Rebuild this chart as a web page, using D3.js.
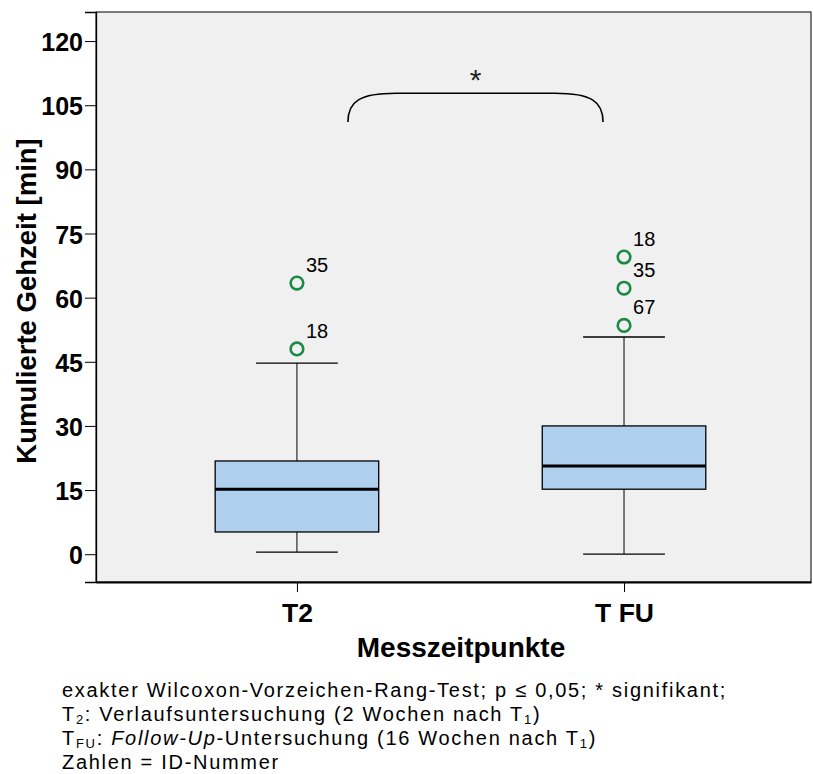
<!DOCTYPE html>
<html>
<head>
<meta charset="utf-8">
<script src="https://cdn.jsdelivr.net/npm/d3@7"></script>
<style>
  body { margin: 0; background: #fff; }
  svg { font-family: "Liberation Sans", Arial, sans-serif; }
</style>
</head>
<body>
<svg width="813" height="774"></svg>
<script>
// box plot values
var groups = ["T2", "T FU"];
var whiskerLow = [0.5, 0];
var q1 = [5.2, 15.2];
var median = [15.2, 20.6];
var q3 = [21.8, 30];
var whiskerHigh = [44.7, 50.8];

// outliers: group, value, ID label
var outlierGroup = ["T2", "T2", "T FU", "T FU", "T FU"];
var outlierValue = [63.4, 48, 69.5, 62.2, 53.5];
var outlierId = ["35", "18", "18", "35", "67"];

var yTicks = [0, 15, 30, 45, 60, 75, 90, 105, 120];

var svg = d3.select("svg"),
    margin = {top: 12, right: 2, bottom: 192, left: 96},
    width = +svg.attr("width") - margin.left - margin.right,
    height = +svg.attr("height") - margin.top - margin.bottom,
    g = svg.append("g").attr("transform", "translate(" + margin.left + "," + margin.top + ")");

var x = d3.scalePoint()
    .domain(groups)
    .range([0, width])
    .padding(0.593)
    .align(0.518);

var y = d3.scaleLinear()
    .domain([-6.5, 126.8])
    .range([height, 0]);

var step = x.step(),
    boxHalf = step * 0.25,
    capHalf = step * 0.125;

// plot background + frame
g.append("rect")
    .attr("width", width)
    .attr("height", height)
    .style("fill", "#f0f0f0")
    .style("stroke", "#000")
    .style("stroke-width", 1);

// y axis
var yAxis = g.append("g")
    .call(d3.axisLeft(y).tickValues(yTicks).tickSize(11).tickPadding(2));
yAxis.select(".domain").attr("stroke-width", 1.3);
yAxis.selectAll("text")
    .attr("dy", "0.38em")
    .style("font-size", "25px")
    .style("font-weight", "bold")
    .attr("fill", "#000");

// x axis
var xAxis = g.append("g")
    .attr("transform", "translate(0," + height + ")")
    .call(d3.axisBottom(x).tickSize(10).tickPadding(11).tickSizeOuter(0));
xAxis.select(".domain").attr("stroke-width", 2);
xAxis.selectAll("text")
    .style("font-size", "26.5px")
    .style("font-weight", "bold")
    .attr("fill", "#000");

// boxes
var box = g.selectAll(".box")
    .data(groups)
    .enter().append("g")
      .attr("class", "box");

box.append("line")
    .attr("x1", function(d) { return x(d); })
    .attr("x2", function(d) { return x(d); })
    .attr("y1", function(d, i) { return y(whiskerLow[i]); })
    .attr("y2", function(d, i) { return y(whiskerHigh[i]); })
    .style("stroke", "#000");

box.selectAll(".cap")
    .data(function(d, i) { return [[d, whiskerLow[i]], [d, whiskerHigh[i]]]; })
    .enter().append("line")
      .attr("x1", function(d) { return x(d[0]) - capHalf; })
      .attr("x2", function(d) { return x(d[0]) + capHalf; })
      .attr("y1", function(d) { return y(d[1]); })
      .attr("y2", function(d) { return y(d[1]); })
      .style("stroke", "#000")
      .style("stroke-width", 1.3);

box.append("rect")
    .attr("x", function(d) { return x(d) - boxHalf; })
    .attr("width", boxHalf * 2)
    .attr("y", function(d, i) { return y(q3[i]); })
    .attr("height", function(d, i) { return y(q1[i]) - y(q3[i]); })
    .style("fill", "#aed0ee")
    .style("stroke", "#000")
    .style("stroke-width", 1.3);

box.append("line")
    .attr("x1", function(d) { return x(d) - boxHalf; })
    .attr("x2", function(d) { return x(d) + boxHalf; })
    .attr("y1", function(d, i) { return y(median[i]); })
    .attr("y2", function(d, i) { return y(median[i]); })
    .style("stroke", "#000")
    .style("stroke-width", 3);

// outliers
var out = g.selectAll(".outlier")
    .data(outlierValue)
    .enter().append("g")
      .attr("class", "outlier")
      .attr("transform", function(d, i) { return "translate(" + x(outlierGroup[i]) + "," + y(d) + ")"; });

out.append("circle")
    .attr("r", 6.3)
    .style("fill", "none")
    .style("stroke", "#1a8a45")
    .style("stroke-width", 2.6);

out.append("text")
    .attr("x", 9)
    .attr("y", -11)
    .style("font-size", "20px")
    .text(function(d, i) { return outlierId[i]; });

// significance bracket
var bx0 = x(groups[0]) + 51,
    bx1 = x(groups[1]) - 21,
    byTop = y(107.8),
    byBot = y(101.1),
    r = 30;
g.append("path")
    .attr("d", "M" + bx0 + "," + byBot +
        "C" + bx0 + "," + (byTop + 8) + " " + (bx0 + 12) + "," + byTop + " " + (bx0 + r + 18) + "," + byTop +
        "L" + (bx1 - r - 18) + "," + byTop +
        "C" + (bx1 - 12) + "," + byTop + " " + bx1 + "," + (byTop + 8) + " " + bx1 + "," + byBot)
    .style("fill", "none")
    .style("stroke", "#000")
    .style("stroke-width", 1.6);

g.append("text")
    .attr("x", (bx0 + bx1) / 2)
    .attr("y", byTop - 3)
    .attr("text-anchor", "middle")
    .style("font-size", "30px")
    .style("fill", "#222")
    .text("*");

// axis titles
svg.append("text")
    .attr("transform", "translate(36,301) rotate(-90)")
    .attr("text-anchor", "middle")
    .style("font-size", "27.5px")
    .style("font-weight", "bold")
    .text("Kumulierte Gehzeit [min]");

svg.append("text")
    .attr("x", 461)
    .attr("y", 657)
    .attr("text-anchor", "middle")
    .style("font-size", "28px")
    .style("font-weight", "bold")
    .text("Messzeitpunkte");

// footnote
var note = svg.append("g")
    .attr("transform", "translate(62,0)")
    .style("font-size", "20px")
    .style("letter-spacing", "1.7px");

note.append("text").attr("y", 697)
    .text("exakter Wilcoxon-Vorzeichen-Rang-Test; p \u2264 0,05; * signifikant;");

var l2 = note.append("text").attr("y", 721);
l2.append("tspan").text("T");
l2.append("tspan").attr("dy", 3).style("font-size", "13px").text("2");
l2.append("tspan").attr("dy", -3).text(": Verlaufsuntersuchung (2 Wochen nach T");
l2.append("tspan").attr("dy", 3).style("font-size", "13px").text("1");
l2.append("tspan").attr("dy", -3).text(")");

var l3 = note.append("text").attr("y", 745);
l3.append("tspan").text("T");
l3.append("tspan").attr("dy", 3).style("font-size", "13px").text("FU");
l3.append("tspan").attr("dy", -3).text(": ");
l3.append("tspan").style("font-style", "italic").text("Follow-Up");
l3.append("tspan").text("-Untersuchung (16 Wochen nach T");
l3.append("tspan").attr("dy", 3).style("font-size", "13px").text("1");
l3.append("tspan").attr("dy", -3).text(")");

note.append("text").attr("y", 769)
    .text("Zahlen = ID-Nummer");
</script>
</body>
</html>
